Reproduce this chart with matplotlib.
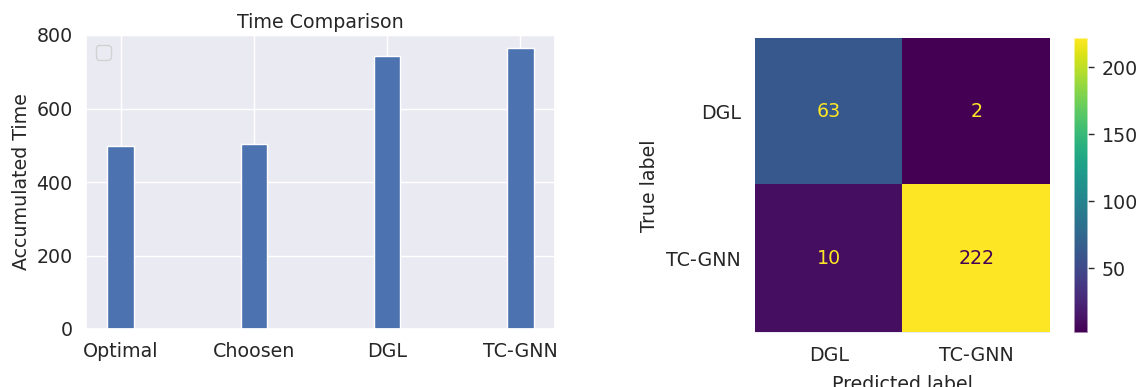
import matplotlib
matplotlib.use("Agg")
import matplotlib.pyplot as plt
import numpy as np
import seaborn as sns

# Accumulated runtime of each strategy
methods = ["Optimal", "Choosen", "DGL", "TC-GNN"]
accum_time = [499, 503, 742, 764]

# Confusion matrix of the backend selector
class_names = ["DGL", "TC-GNN"]
cm_row_dgl = [63, 2]
cm_row_tcgnn = [10, 222]

sns.set_theme(style="darkgrid")
plt.rcParams["font.family"] = ["DejaVu Sans"]
FS = 13.7

W, H = 1145, 387
fig = plt.figure(figsize=(W / 100, H / 100), dpi=100)


def box(x0, y0, x1, y1):
    return [x0 / W, 1 - y1 / H, (x1 - x0) / W, (y1 - y0) / H]


# ---- bar chart ----
ax = fig.add_axes(box(86, 35, 555, 329))
x = np.arange(len(methods))
ax.bar(x, accum_time, width=0.2, color="#4c72b0")
ax.set_xticks(x)
ax.set_xticklabels(methods, fontsize=FS)
ax.set_ylim(0, 800)
ax.set_yticks([0, 200, 400, 600, 800])
ax.tick_params(axis="y", labelsize=FS)
ax.set_ylabel("Accumulated Time", fontsize=FS)
ax.set_title("Time Comparison", fontsize=FS, pad=5)
ax.legend(loc="upper left", fontsize=FS)

# ---- confusion matrix ----
cm = np.array([cm_row_dgl, cm_row_tcgnn])
cmap = plt.get_cmap("viridis")
axc = fig.add_axes(box(755, 38, 1050, 332.5))
im = axc.imshow(cm, cmap=cmap, aspect="auto", interpolation="nearest")
axc.grid(False)
thresh = (cm.max() + cm.min()) / 2.0
for i in range(cm.shape[0]):
    for j in range(cm.shape[1]):
        color = cmap(0.0) if cm[i, j] >= thresh else cmap(1.0)
        axc.text(j, i, f"{cm[i, j]}", ha="center", va="center",
                 color=color, fontsize=FS)
axc.set_xticks(range(len(class_names)))
axc.set_yticks(range(len(class_names)))
axc.set_xticklabels(class_names, fontsize=FS)
axc.set_yticklabels(class_names, fontsize=FS)
axc.set_xlabel("Predicted label", fontsize=FS, labelpad=7)
axc.set_ylabel("True label", fontsize=FS, labelpad=5)
axc.tick_params(length=0, pad=10)
for s in axc.spines.values():
    s.set_visible(False)

cax = fig.add_axes(box(1074, 38, 1087.5, 332.5))
cb = fig.colorbar(im, cax=cax)
cb.set_ticks([50, 100, 150, 200])
cb.ax.tick_params(labelsize=FS, length=4, width=1, color="0.15", pad=6)
cb.outline.set_edgecolor("white")
cb.outline.set_alpha(0.6)

fig.savefig("out.png", dpi=100)
